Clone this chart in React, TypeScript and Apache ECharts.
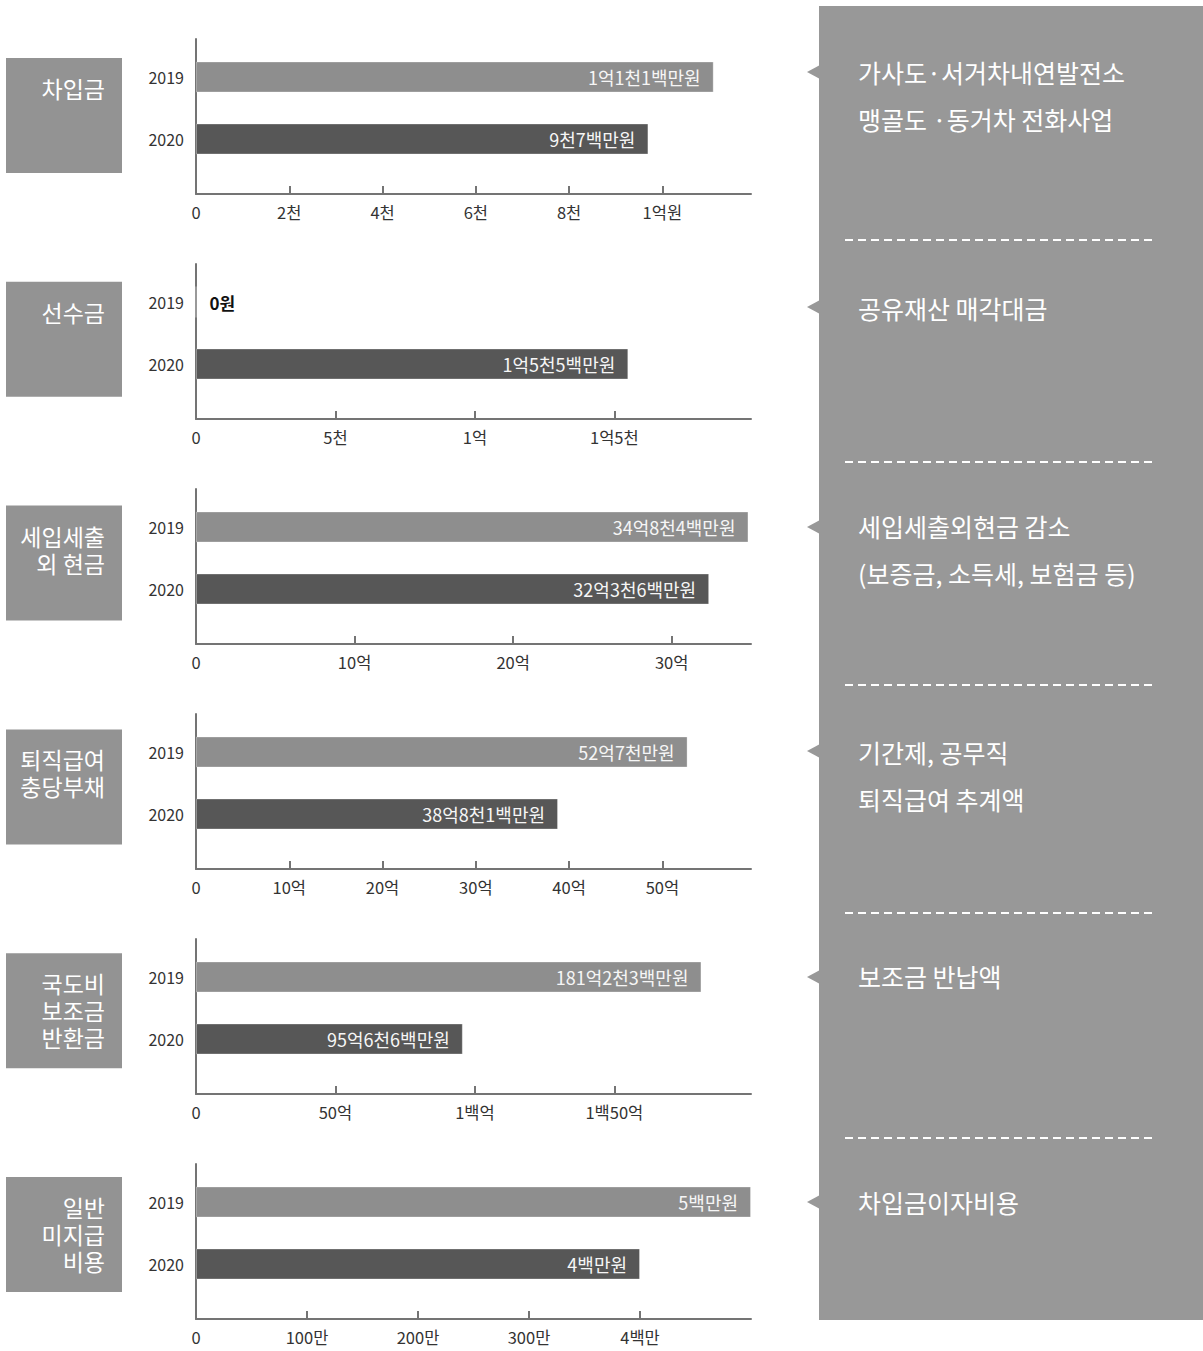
import React, { useEffect, useRef } from 'react';
import * as echarts from 'echarts';

// ---------- data (amounts in 만원) ----------
const years = ['2019', '2020'];
const barColors = ['#8e8e8e', '#575757'];

const titles = [['차입금'], ['선수금'], ['세입세출', '외 현금'], ['퇴직급여', '충당부채'], ['국도비', '보조금', '반환금'], ['일반', '미지급', '비용']];
const notes = [
  '가사도·서거차내연발전소\n맹골도 ·동거차 전화사업',
  '공유재산 매각대금',
  '세입세출외현금 감소\n(보증금, 소득세, 보험금 등)',
  '기간제, 공무직\n퇴직급여 추계액',
  '보조금 반납액',
  '차입금이자비용',
];

const values1 = [11100, 9700];
const values2 = [0, 15500];
const values3 = [348400, 323600];
const values4 = [527000, 388100];
const values5 = [1812300, 956600];
const values6 = [500, 400];

const labels1 = ['1억1천1백만원', '9천7백만원'];
const labels2 = ['0원', '1억5천5백만원'];
const labels3 = ['34억8천4백만원', '32억3천6백만원'];
const labels4 = ['52억7천만원', '38억8천1백만원'];
const labels5 = ['181억2천3백만원', '95억6천6백만원'];
const labels6 = ['5백만원', '4백만원'];

const ticks1 = [0, 2000, 4000, 6000, 8000, 10000];
const tickLabels1 = ['0', '2천', '4천', '6천', '8천', '1억원'];
const ticks2 = [0, 5000, 10000, 15000];
const tickLabels2 = ['0', '5천', '1억', '1억5천'];
const ticks3 = [0, 100000, 200000, 300000];
const tickLabels3 = ['0', '10억', '20억', '30억'];
const ticks4 = [0, 100000, 200000, 300000, 400000, 500000];
const tickLabels4 = ['0', '10억', '20억', '30억', '40억', '50억'];
const ticks5 = [0, 500000, 1000000, 1500000];
const tickLabels5 = ['0', '50억', '1백억', '1백50억'];
const ticks6 = [0, 100, 200, 300, 400];
const tickLabels6 = ['0', '100만', '200만', '300만', '4백만'];

const axisMax = [11900, 19900, 350000, 595000, 1990000, 500];

const panels = [
  { values: values1, labels: labels1, ticks: ticks1, tickLabels: tickLabels1 },
  { values: values2, labels: labels2, ticks: ticks2, tickLabels: tickLabels2 },
  { values: values3, labels: labels3, ticks: ticks3, tickLabels: tickLabels3 },
  { values: values4, labels: labels4, ticks: ticks4, tickLabels: tickLabels4 },
  { values: values5, labels: labels5, ticks: ticks5, tickLabels: tickLabels5 },
  { values: values6, labels: labels6, ticks: ticks6, tickLabels: tickLabels6 },
];

const FONT = '"Noto Sans CJK KR", "Noto Sans", sans-serif';
const AXIS_COLOR = '#747474';
const BOX_COLOR = '#939393';
const PANEL_COLOR = '#989898';

function buildOption() {
  const grid: any[] = [];
  const xAxis: any[] = [];
  const yAxis: any[] = [];
  const series: any[] = [];
  const graphic: any[] = [];

  panels.forEach((p, i) => {
    const off = 225 * i;
    const max = axisMax[i];
    grid.push({ left: 196, width: 555, top: 46 + off, height: 124 });
    grid.push({ left: 196, width: 555, top: 39 + off, height: 155 });

    xAxis.push({ gridIndex: 2 * i, type: 'value', min: 0, max, show: false });
    xAxis.push({
      gridIndex: 2 * i + 1,
      type: 'value',
      min: 0,
      max,
      axisLine: { show: true, onZero: false, lineStyle: { color: AXIS_COLOR, width: 2 } },
      axisTick: { show: true, inside: true, length: 8, customValues: p.ticks, lineStyle: { color: AXIS_COLOR, width: 2 } },
      axisLabel: {
        customValues: p.ticks,
        margin: 10,
        fontSize: 16.5,
        color: '#333',
        fontFamily: FONT,
        formatter: (v: number) => {
          const k = p.ticks.indexOf(v);
          return k >= 0 ? p.tickLabels[k] : '';
        },
      },
      splitLine: { show: false },
    });

    yAxis.push({
      gridIndex: 2 * i,
      type: 'category',
      inverse: true,
      data: years,
      axisLine: { show: false },
      axisTick: { show: false },
      axisLabel: { fontSize: 16, color: '#333', margin: 12, fontFamily: FONT },
    });
    yAxis.push({
      gridIndex: 2 * i + 1,
      type: 'value',
      min: 0,
      max: 1,
      axisLine: { show: true, onZero: false, lineStyle: { color: AXIS_COLOR, width: 2 } },
      axisTick: { show: false },
      axisLabel: { show: false },
      splitLine: { show: false },
    });

    series.push({
      type: 'bar',
      xAxisIndex: 2 * i,
      yAxisIndex: 2 * i,
      barWidth: 31,
      data: p.values.map((v, k) => {
        const zero = v === 0;
        return {
          value: v,
          itemStyle: { color: barColors[k], borderColor: 'rgba(255,255,255,0.3)', borderWidth: 1 },
          label: {
            show: true,
            position: zero ? 'right' : 'insideRight',
            distance: 13,
            color: zero ? '#111' : '#f6f6f6',
            fontWeight: zero ? 'bold' : 'normal',
            fontSize: zero ? 17 : 18,
            fontFamily: FONT,
            formatter: p.labels[k],
          },
        };
      }),
    });

    // left title box
    const boxTop = 58 + 223.8 * i;
    graphic.push({
      type: 'rect',
      shape: { x: 6, y: boxTop, width: 116, height: 115 },
      style: { fill: BOX_COLOR },
    });
    titles[i].forEach((line, li) => {
      graphic.push({
        type: 'text',
        x: 105,
        y: boxTop + 30 + li * 27,
        style: {
          text: line,
          fill: '#ffffff',
          fontSize: 23,
          fontFamily: FONT,
          align: 'right',
          verticalAlign: 'middle',
        },
      });
    });
  });

  // right note panel
  graphic.push({
    type: 'rect',
    shape: { x: 819, y: 6, width: 384, height: 1314 },
    style: { fill: PANEL_COLOR },
  });
  const pointerY = [72, 307, 527, 751, 977, 1202];
  const noteY = [72, 308, 526, 752, 976, 1202];
  pointerY.forEach((cy) => {
    graphic.push({
      type: 'polygon',
      shape: { points: [[807, cy], [820, cy - 7], [820, cy + 7]] },
      style: { fill: PANEL_COLOR },
    });
  });
  noteY.forEach((cy, i) => {
    graphic.push({
      type: 'text',
      x: 858,
      y: cy - 23.5,
      style: {
        text: notes[i],
        fill: '#ffffff',
        fontSize: 25,
        fontFamily: FONT,
        align: 'left',
        verticalAlign: 'top',
        lineHeight: 47,
      },
    });
  });
  const dashY = [240, 462, 685, 913, 1138];
  dashY.forEach((y) => {
    graphic.push({
      type: 'line',
      shape: { x1: 845, y1: y, x2: 1153, y2: y },
      style: { stroke: '#ffffff', lineWidth: 2, lineDash: [8, 5] },
    });
  });

  return {
    animation: false,
    backgroundColor: '#ffffff',
    textStyle: { fontFamily: FONT },
    grid,
    xAxis,
    yAxis,
    series,
    graphic,
  };
}

export default function App() {
  const ref = useRef<HTMLDivElement>(null);
  useEffect(() => {
    if (!ref.current) return;
    const chart = echarts.init(ref.current, undefined, { renderer: 'svg' });
    chart.setOption(buildOption() as any);
    return () => chart.dispose();
  }, []);
  return (
    <div
      ref={ref}
      style={{ position: 'absolute', left: 0, top: 0, width: 1203, height: 1351 }}
    />
  );
}
